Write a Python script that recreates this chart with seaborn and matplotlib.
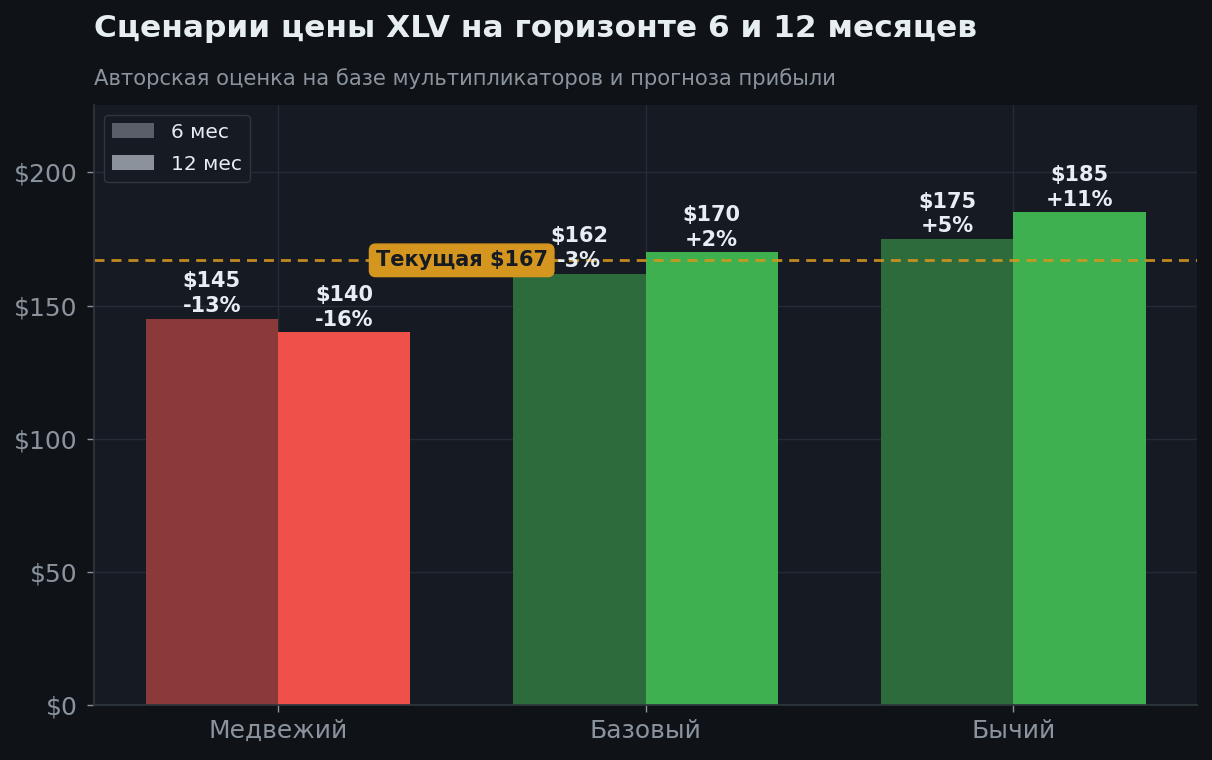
import matplotlib
matplotlib.use("Agg")
import matplotlib.pyplot as plt
from matplotlib.patches import Patch
import pandas as pd
import seaborn as sns

scenarios = ["Медвежий", "Базовый", "Бычий"]
price_6m = [145, 162, 175]
price_12m = [140, 170, 185]
current_price = 167
horizons = ["6 мес", "12 мес"]

BG = "#0f1318"
AX_BG = "#161a23"
GRID = "#262b35"
MUTED = "#8b949e"
TEXT = "#e6edf3"
GOLD = "#d4961f"
colors_6m = ["#8b3a3a", "#2d6b3c", "#2d6b3c"]
colors_12m = ["#ef5049", "#3fb04f", "#3fb04f"]

df = pd.DataFrame({
    "scenario": scenarios * 2,
    "horizon": [horizons[0]] * 3 + [horizons[1]] * 3,
    "price": price_6m + price_12m,
})

sns.set_theme(style="dark")
plt.rcParams["font.family"] = ["DejaVu Sans"]

fig = plt.figure(figsize=(12.12, 7.6), dpi=100, facecolor=BG)
ax = fig.add_axes([0.0776, 0.0724, 0.91, 0.79])
ax.set_facecolor(AX_BG)

sns.barplot(data=df, x="scenario", y="price", hue="horizon", width=0.72,
            order=scenarios, hue_order=horizons, ax=ax, legend=False,
            saturation=1, palette=["#555", "#999"])

# per-scenario colours, lighter shade for the 12-month bar
for container, cols in zip(ax.containers, [colors_6m, colors_12m]):
    for bar, c in zip(container, cols):
        bar.set_facecolor(c)
        bar.set_edgecolor("none")
        h = bar.get_height()
        pct = (h / current_price - 1) * 100
        ax.text(bar.get_x() + bar.get_width() / 2, h + 1,
                f"${h:.0f}\n{pct:+.0f}%", ha="center", va="bottom",
                color=TEXT, fontsize=15, fontweight="bold", linespacing=1.3)

ax.axhline(current_price, color=GOLD, lw=2, ls=(0, (3.6, 2.5)), alpha=0.9, zorder=1.5)
ax.text(0.5, current_price, f"Текущая ${current_price}", ha="center", va="center",
        fontsize=15, fontweight="bold", color="#161a23", zorder=5,
        bbox=dict(boxstyle="round,pad=0.3", fc=GOLD, ec=GOLD))

ax.set_xlim(-0.5, 2.5)
ax.set_ylim(0, 225.5)
ax.set_yticks([0, 50, 100, 150, 200])
ax.set_yticklabels([f"${v}" for v in [0, 50, 100, 150, 200]])
ax.set_xlabel("")
ax.set_ylabel("")
ax.tick_params(axis="both", labelsize=18, length=5, width=1, colors=MUTED,
               bottom=True, left=True)
ax.tick_params(axis="y", pad=7)
ax.tick_params(axis="x", pad=5)
ax.grid(True, color=GRID, lw=1)
ax.set_axisbelow(True)
for side in ["top", "right"]:
    ax.spines[side].set_visible(False)
for side in ["left", "bottom"]:
    ax.spines[side].set_visible(True)
    ax.spines[side].set_color("#30363d")

handles = [Patch(facecolor="#5a5e68", edgecolor="none", label=horizons[0]),
           Patch(facecolor="#8b929c", edgecolor="none", label=horizons[1])]
leg = ax.legend(handles=handles, loc="upper left", fontsize=14.5, frameon=True,
                facecolor=AX_BG, edgecolor="#30363d", labelcolor=TEXT,
                handlelength=2.1, handleheight=0.8, borderaxespad=0.5,
                labelspacing=0.65)
leg.get_frame().set_alpha(1)

fig.text(0.0776, 0.962, "Сценарии цены XLV на горизонте 6 и 12 месяцев",
         fontsize=22.5, fontweight="bold", color=TEXT, va="center")
fig.text(0.0776, 0.897, "Авторская оценка на базе мультипликаторов и прогноза прибыли",
         fontsize=15.2, color=MUTED, va="center")

fig.savefig("out.png", dpi=100, facecolor=BG)
